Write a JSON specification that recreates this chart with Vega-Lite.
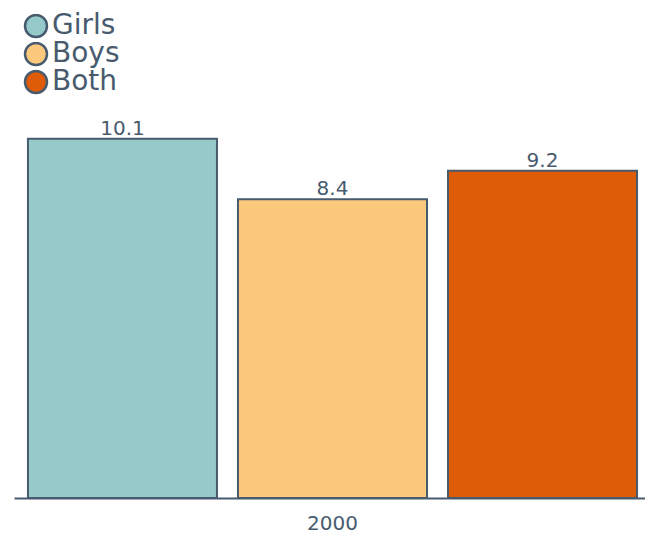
{
  "$schema": "https://vega.github.io/schema/vega-lite/v6.json",
  "width": 631,
  "height": 498,
  "padding": {"left": 14, "top": 0, "right": 0, "bottom": 0},
  "autosize": {"type": "pad"},
  "background": "white",
  "config": {"view": {"stroke": null}, "font": "DejaVu Sans"},
  "data": {
    "values": [
      {"year": "2000", "group": "Girls", "value": 10.1},
      {"year": "2000", "group": "Boys", "value": 8.4},
      {"year": "2000", "group": "Both", "value": 9.2}
    ]
  },
  "encoding": {
    "x": {
      "field": "year",
      "type": "nominal",
      "scale": {"paddingInner": 0, "paddingOuter": 0.018, "align": 0.636},
      "axis": {
        "title": null,
        "labelAngle": 0,
        "ticks": false,
        "domainColor": "#485b6e",
        "domainWidth": 2,
        "labelColor": "#485b6e",
        "labelFontSize": 20,
        "labelPadding": 15,
        "labelFont": "DejaVu Sans"
      }
    },
    "xOffset": {
      "field": "group",
      "type": "nominal",
      "sort": ["Girls", "Boys", "Both"],
      "scale": {"paddingInner": 0.1, "paddingOuter": 0}
    },
    "y": {
      "field": "value",
      "type": "quantitative",
      "scale": {"domain": [0, 14], "nice": false},
      "axis": null
    }
  },
  "layer": [
    {
      "mark": {"type": "bar", "stroke": "#485b6e", "strokeWidth": 2},
      "encoding": {
        "color": {
          "field": "group",
          "type": "nominal",
          "sort": ["Girls", "Boys", "Both"],
          "scale": {"domain": ["Girls", "Boys", "Both"], "range": ["#96c9c9", "#fcc97c", "#de5c08"]},
          "legend": {
            "title": null,
            "orient": "none",
            "legendX": 8,
            "legendY": 14,
            "symbolType": "circle",
            "symbolSize": 484,
            "symbolStrokeColor": "#485b6e",
            "symbolStrokeWidth": 2.5,
            "symbolOpacity": 1,
            "labelFontSize": 28,
            "labelColor": "#485b6e",
            "labelFont": "DejaVu Sans",
            "labelOffset": 2,
            "rowPadding": 0,
            "clipHeight": 24,
            "labelBaseline": "middle"
          }
        }
      }
    },
    {
      "mark": {"type": "text", "baseline": "alphabetic", "dy": -4, "fontSize": 20, "color": "#485b6e", "font": "DejaVu Sans"},
      "encoding": {
        "text": {"field": "value", "type": "quantitative", "format": ".1f"}
      }
    }
  ]
}
